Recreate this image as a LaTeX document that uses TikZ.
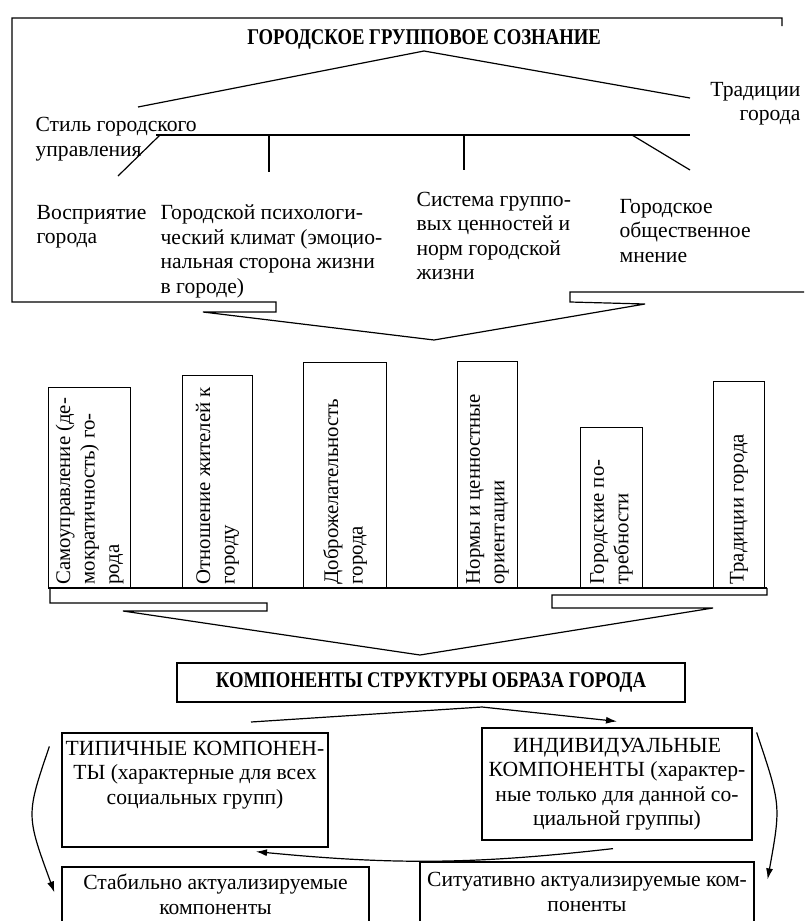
\documentclass[tikz,border=0pt]{standalone}
\usepackage{fontspec}
\setmainfont{Liberation Serif}
\newfontfamily\titfont[FakeStretch=0.83]{Liberation Serif}
\usetikzlibrary{arrows.meta,positioning,calc}
\tikzset{
  txt/.style={inner sep=0pt,align=left,anchor=north west,font=\fontsize{21.6}{24.5}\selectfont},
  ctxt/.style={inner sep=0pt,align=center,font=\fontsize{21.6}{24.5}\selectfont},
  titre/.style={inner sep=0pt,font=\titfont\bfseries\fontsize{22.5}{26}\selectfont},
  cadre/.style={draw,inner sep=0pt},
  colonne/.style={draw,inner sep=0pt,anchor=south west},
  vtxt/.style={rotate=90,anchor=west,align=left,inner sep=0pt,font=\fontsize{20.8}{24.5}\selectfont},
  fleche/.style={-{Latex[length=11pt,width=7pt]}}
}
\begin{document}
\begin{tikzpicture}[x=1pt,y=1pt,line width=1.2pt]
\useasboundingbox(0,0)rectangle(804,-921);
\clip(0,0)rectangle(804,-921);
\fill[white](0,0)rectangle(804,-921);
\node[titre](T)at(424,-39){ГОРОДСКОЕ ГРУППОВОЕ СОЗНАНИЕ};
\coordinate(P1)at(434,-340);
\draw(782,-26)--(782,-18)--(12,-18)--(12,-302)--(276,-302)--(276,-312)--(203,-312)--(P1)--(645,-304)--(570,-302)--(570,-292)--(804,-292);
\node[txt](stil)at(35,-117){Стиль городского\\управления};
\node[txt,align=right,anchor=north east](trad)at(801,-81.5){Традиции\\города};
\coordinate(roofL)at(138,-107);
\coordinate(roofR)at(690,-98);
\draw(roofL)--([yshift=-12pt]T.center)--(roofR);
\coordinate(barL)at(156,-135);
\coordinate(barR)at(690,-135);
\draw(barL)--(barR);
\coordinate(b1)at(118,-176);
\coordinate(b2)at(269,-172);
\coordinate(b3)at(464,-170);
\coordinate(b4)at(690,-170);
\draw(160,-135)--(b1);
\draw(269,-135)--(b2);
\draw(464,-135)--(b3);
\draw(632,-135)--(b4);
\node[txt](vospr)at(36,-204.5){Восприятие\\города};
\node[txt](klimat)at(160,-204.5){Городской психологи-\\ческий климат (эмоцио-\\нальная сторона жизни\\в городе)};
\node[txt](sist)at(416,-191.5){Система группо-\\вых ценностей и\\норм городской\\жизни};
\node[txt](mnen)at(619,-198.5){Городское\\общественное\\мнение};
\node[colonne,minimum width=82pt,minimum height=200pt](c1)at(48,-588){};
\node[vtxt](t1)at([yshift=3pt]c1.south){Самоуправление (де-\\мократичность) го-\\рода};
\node[colonne,minimum width=70pt,minimum height=212pt](c2)at(182,-588){};
\node[vtxt](t2)at([yshift=3pt]c2.south){Отношение жителей к\\городу};
\node[colonne,minimum width=83pt,minimum height=225pt](c3)at(303,-588){};
\node[vtxt](t3)at([yshift=3pt]c3.south){Доброжелательность\\города};
\node[colonne,minimum width=60pt,minimum height=226pt](c4)at(457,-588){};
\node[vtxt](t4)at([yshift=3pt]c4.south){Нормы и ценностные\\ориентации};
\node[colonne,minimum width=62pt,minimum height=160pt](c5)at(580,-588){};
\node[vtxt](t5)at([yshift=3pt]c5.south){Городские по-\\требности};
\node[colonne,minimum width=51pt,minimum height=206pt](c6)at(713,-588){};
\node[vtxt](t6)at([yshift=3pt]c6.south){Традиции города};
\draw(48,-588)--(767,-588);
\coordinate(P2)at(420,-655);
\draw(50,-588)--(50,-603)--(267,-603)--(267,-611)--(123,-611)--(P2)--(713,-608)--(552,-608)--(552,-595)--(767,-595)--(767,-588);
\node[titre,cadre,minimum width=508pt,minimum height=39pt](komp)at(431,-682.5){КОМПОНЕНТЫ СТРУКТУРЫ ОБРАЗА ГОРОДА};
\node[cadre,minimum width=266pt,minimum height=114pt](tip)at(195,-790){};
\node[ctxt,anchor=north](tiptxt)at([yshift=-8pt]tip.north){ТИПИЧНЫЕ КОМПОНЕН-\\ТЫ (характерные для всех\\социальных групп)};
\node[cadre,ctxt,minimum width=270pt,minimum height=112pt](ind)at(617,-784){ИНДИВИДУАЛЬНЫЕ\\КОМПОНЕНТЫ (характер-\\ные только для данной со-\\циальной группы)};
\node[cadre,ctxt,minimum width=307pt,minimum height=55pt](stab)at(215.5,-894.5){Стабильно актуализируемые\\компоненты};
\node[cadre,ctxt,minimum width=334pt,minimum height=60pt](sit)at(587,-892){Ситуативно актуализируемые ком-\\поненты};
\coordinate(a1)at(251,-722);
\coordinate(a2)at(482,-707);
\draw[fleche](a1)--(a2)--([yshift=6pt]ind.north);
\draw[fleche]([xshift=-4pt,yshift=-8pt]ind.south)to[bend left=6]([xshift=61pt,yshift=-4pt]tip.south);
\draw[fleche]([xshift=-12pt,yshift=-14pt]tip.north west)..controls(26,-815)..([xshift=-7pt,yshift=2pt]stab.west);
\draw[fleche]([xshift=4pt,yshift=-5pt]ind.north east)..controls(781,-805)..([xshift=13pt,yshift=-18pt]sit.north east);
\end{tikzpicture}
\end{document}
